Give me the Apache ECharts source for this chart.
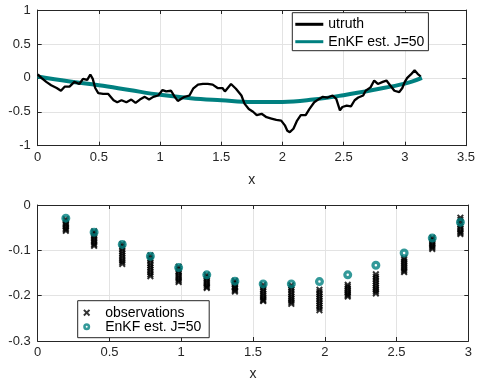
<!DOCTYPE html>
<html>
<head>
<meta charset="utf-8">
<script src="https://cdn.jsdelivr.net/npm/echarts@6/dist/echarts.min.js"></script>
<style>
html,body{margin:0;padding:0;background:#fff;}
#chart{width:478px;height:382px;}
</style>
</head>
<body>
<div id="chart"></div>
<script>
// ---- top panel: true signal ----
var truthX = [0,0.03,0.07,0.11,0.155,0.19,0.22,0.26,0.30,0.34,0.37,0.405,0.43,0.45,0.47,0.495,0.535,0.575,0.62,0.65,0.685,0.725,0.765,0.80,0.835,0.875,0.91,0.945,0.985,1.02,1.05,1.09,1.12,1.145,1.2,1.24,1.27,1.31,1.35,1.39,1.43,1.47,1.51,1.53,1.58,1.62,1.665,1.69,1.725,1.76,1.79,1.83,1.87,1.91,1.95,1.99,2.02,2.04,2.06,2.09,2.12,2.15,2.19,2.22,2.26,2.3,2.33,2.37,2.41,2.44,2.47,2.49,2.525,2.56,2.59,2.62,2.66,2.68,2.72,2.75,2.78,2.82,2.85,2.88,2.915,2.955,2.98,3.0,3.02,3.05,3.08,3.105,3.13];
var truthY = [0.05,0.0,-0.06,-0.11,-0.15,-0.19,-0.13,-0.13,-0.06,-0.09,-0.015,-0.03,0.05,-0.015,-0.15,-0.225,-0.235,-0.235,-0.33,-0.36,-0.33,-0.36,-0.32,-0.37,-0.32,-0.28,-0.32,-0.28,-0.26,-0.18,-0.2,-0.19,-0.28,-0.34,-0.28,-0.26,-0.16,-0.1,-0.09,-0.09,-0.1,-0.15,-0.15,-0.2,-0.09,-0.16,-0.26,-0.38,-0.46,-0.5,-0.55,-0.53,-0.58,-0.6,-0.62,-0.63,-0.7,-0.78,-0.8,-0.75,-0.63,-0.55,-0.55,-0.46,-0.36,-0.31,-0.28,-0.29,-0.26,-0.31,-0.48,-0.43,-0.41,-0.42,-0.33,-0.29,-0.26,-0.19,-0.14,-0.04,-0.09,-0.06,-0.04,-0.11,-0.19,-0.21,-0.15,-0.06,0.0,0.05,0.11,0.06,0.02];
// ---- top panel: EnKF estimate curve ----
var estX = [0,0.25,0.5,0.75,1.0,1.25,1.5,1.75,2.0,2.25,2.5,2.75,3.0,3.14];
var estY = [0.02,-0.05,-0.11,-0.18,-0.25,-0.30,-0.33,-0.355,-0.355,-0.32,-0.255,-0.175,-0.085,0.0];
// ---- bottom panel ----
var obsX = [0.196,0.393,0.589,0.785,0.982,1.178,1.374,1.571,1.767,1.963,2.160,2.356,2.553,2.749,2.945];
var obsValues = [
  [-0.031,-0.035,-0.040,-0.043,-0.047,-0.051,-0.054,-0.057],
  [-0.058,-0.062,-0.067,-0.071,-0.075,-0.079,-0.083,-0.087,-0.090],
  [-0.086,-0.091,-0.097,-0.102,-0.107,-0.112,-0.117,-0.122,-0.126,-0.130],
  [-0.111,-0.117,-0.122,-0.128,-0.133,-0.138,-0.143,-0.148,-0.153,-0.157],
  [-0.136,-0.141,-0.146,-0.150,-0.155,-0.159,-0.163,-0.167,-0.170],
  [-0.154,-0.158,-0.162,-0.166,-0.170,-0.174,-0.178,-0.181,-0.183],
  [-0.167,-0.171,-0.175,-0.179,-0.182,-0.185,-0.188,-0.191],
  [-0.176,-0.181,-0.186,-0.190,-0.195,-0.199,-0.203,-0.207,-0.210,-0.212],
  [-0.177,-0.182,-0.187,-0.192,-0.197,-0.202,-0.206,-0.210,-0.214,-0.218],
  [-0.187,-0.192,-0.197,-0.202,-0.207,-0.212,-0.217,-0.222,-0.227,-0.232],
  [-0.176,-0.180,-0.184,-0.188,-0.192,-0.196,-0.199,-0.202],
  [-0.153,-0.158,-0.163,-0.168,-0.173,-0.178,-0.183,-0.187,-0.191,-0.195],
  [-0.117,-0.121,-0.125,-0.129,-0.133,-0.137,-0.141,-0.145,-0.148],
  [-0.072,-0.076,-0.080,-0.084,-0.088,-0.091,-0.094,-0.097],
  [-0.028,-0.033,-0.038,-0.043,-0.048,-0.053,-0.058,-0.061,-0.064]
];
var enkfPts = [-0.029,-0.060,-0.087,-0.113,-0.138,-0.154,-0.168,-0.174,-0.174,-0.169,-0.154,-0.133,-0.106,-0.073,-0.038];

var TEAL = '#008080';
var AX = '#262626';
var FONT = '"Liberation Sans", Arial, Helvetica, sans-serif';

function pairs(xs, ys){ var o=[]; for(var i=0;i<xs.length;i++) o.push([xs[i], ys[i]]); return o; }
var obsData = [];
for (var i=0;i<obsX.length;i++) for (var j=0;j<obsValues[i].length;j++) obsData.push([obsX[i], obsValues[i][j]]);

function mainAxis(gi, pos, min, max, interval, name){
  return {
    type:'value', gridIndex:gi, position:pos, min:min, max:max, interval:interval,
    name:name||'', nameLocation:'middle', nameGap:25,
    nameTextStyle:{color:AX, fontSize:14, fontFamily:FONT},
    axisLine:{show:true, onZero:false, lineStyle:{color:AX, width:1}},
    axisTick:{show:true, inside:true, length:4, lineStyle:{color:AX}},
    axisLabel:{show:true, color:AX, fontSize:13, fontFamily:FONT, margin:(pos==='left'?7:5)},
    splitLine:{show:true, lineStyle:{color:'#e3e3e3', width:1}}
  };
}
function sideAxis(gi, pos, min, max, interval){
  return {
    type:'value', gridIndex:gi, position:pos, min:min, max:max, interval:interval,
    axisLine:{show:true, onZero:false, lineStyle:{color:AX, width:1}},
    axisTick:{show:true, inside:true, length:4, lineStyle:{color:AX}},
    axisLabel:{show:false}, splitLine:{show:false}
  };
}

var chart = echarts.init(document.getElementById('chart'), null, {renderer:'canvas'});
var xCross = 'path://M0,2L2,0L5,3L8,0L10,2L7,5L10,8L8,10L5,7L2,10L0,8L3,5Z';
var ring = 'path://M5,0A5,5 0 1,1 5,10A5,5 0 1,1 5,0ZM5,3.6A1.4,1.4 0 1,0 5,6.4A1.4,1.4 0 1,0 5,3.6Z';

chart.setOption({
  animation:false,
  backgroundColor:'#fff',
  textStyle:{fontFamily:FONT},
  grid:[
    {left:37.7, top:10, width:429, height:135.7},
    {left:37.7, top:205, width:430.6, height:137.3}
  ],
  xAxis:[
    Object.assign(mainAxis(0,'bottom',0,3.5,0.5,'x'),{nameGap:27}),
    sideAxis(0,'top',0,3.5,0.5),
    Object.assign(mainAxis(1,'bottom',0,3,0.5,'x'),{nameGap:26}),
    sideAxis(1,'top',0,3,0.5)
  ],
  yAxis:[
    mainAxis(0,'left',-1,1,0.5),
    sideAxis(0,'right',-1,1,0.5),
    mainAxis(1,'left',-0.3,0,0.1),
    sideAxis(1,'right',-0.3,0,0.1)
  ],
  legend:[
    {
      data:[{name:'utruth', icon:'rect', itemStyle:{color:'#000'}},{name:'EnKF est. J=50', icon:'rect', itemStyle:{color:TEAL}}],
      orient:'vertical', left:292.3, top:12.7, padding:[4.6,4,2,3], itemWidth:28, itemHeight:3, itemGap:3.4,
      borderColor:AX, borderWidth:1, backgroundColor:'#fff', selectedMode:false,
      textStyle:{fontSize:14, color:'#000', fontFamily:FONT, lineHeight:14}
    },
    {
      data:[
        {name:'observations', itemStyle:{color:'#000'}},
        {name:'EnKF est. J=50 ', itemStyle:{color:TEAL}}
      ],
      orient:'vertical', left:77.7, top:300.7, padding:[5,4,4,5.5], itemWidth:27, itemHeight:7, itemGap:0,
      borderColor:AX, borderWidth:1, backgroundColor:'#fff', selectedMode:false,
      textStyle:{fontSize:14, color:'#000', fontFamily:FONT, lineHeight:14}
    }
  ],
  series:[
    {
      name:'EnKF est. J=50', type:'line', xAxisIndex:0, yAxisIndex:0, data:pairs(estX, estY),
      smooth:0.4, showSymbol:false, symbol:'none', lineStyle:{color:TEAL, width:4}, itemStyle:{color:TEAL}, z:2
    },
    {
      name:'utruth', type:'line', xAxisIndex:0, yAxisIndex:0, data:pairs(truthX, truthY),
      showSymbol:false, symbol:'none', lineStyle:{color:'#000', width:2.3}, itemStyle:{color:'#000'}, z:3
    },
    {
      name:'observations', type:'scatter', xAxisIndex:2, yAxisIndex:2, data:obsData,
      symbol:xCross, symbolSize:7, symbolKeepAspect:true, itemStyle:{color:'#000'}, z:2
    },
    {
      name:'EnKF est. J=50 ', type:'scatter', xAxisIndex:2, yAxisIndex:2, data:pairs(obsX, enkfPts),
      symbol:ring, symbolSize:9, symbolKeepAspect:true, itemStyle:{color:TEAL}, z:3
    }
  ]
});
</script>
</body>
</html>
